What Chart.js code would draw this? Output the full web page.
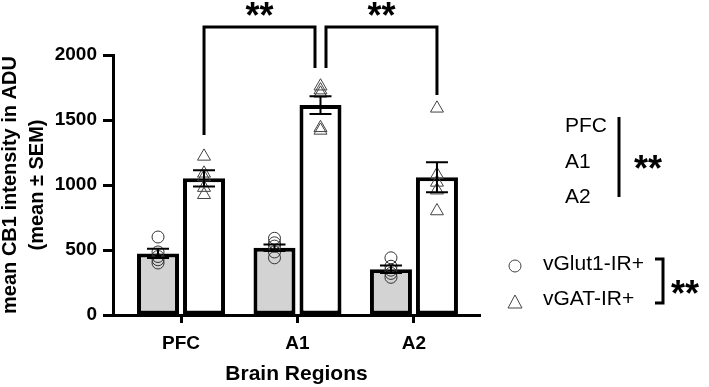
<!DOCTYPE html>
<html>
<head>
<meta charset="utf-8">
<script src="https://cdn.jsdelivr.net/npm/chart.js@4/dist/chart.umd.min.js"></script>
<style>
  body { margin: 0; background: #fff; }
</style>
</head>
<body>
<canvas id="barChart" width="709" height="387"></canvas>
<script>
const regions = ['PFC', 'A1', 'A2'];
const glutMean = [474, 518, 352];
const glutSem = [35, 25, 28];
const gatMean = [1051, 1615, 1060];
const gatSem = [62, 68, 115];
const glutPoints = [[600, 485, 450, 425, 400], [590, 555, 530, 485, 440], [440, 375, 345, 320, 290]];
const gatPoints = [[1220, 1090, 1060, 980, 925], [1760, 1730, 1705, 1440, 1420], [1590, 1080, 1020, 960, 800]];
const yTicks = [0, 500, 1000, 1500, 2000];
const seriesNames = ['vGlut1-IR+', 'vGAT-IR+'];
// significance brackets between vGAT bars (values in ADU)
const brackets = [
  { from: 0, to: 1, top: 2215, left: 1385, right: 1900 },
  { from: 1, to: 2, top: 2215, left: 1900, right: 1692 }
];

const family = "'Liberation Sans', Arial, sans-serif";
const catPct = 0.79;

function toXY(values) {
  return values.map(function (v, i) { return { x: i, y: v }; });
}

function pointsXY(groups, shift) {
  const out = [];
  groups.forEach(function (g, i) {
    g.forEach(function (v) { out.push({ x: i + shift, y: v }); });
  });
  return out;
}

function stars(ctx, x, baseline) {
  ctx.font = 'bold 36px ' + family;
  ctx.textAlign = 'center';
  ctx.fillText('**', x, baseline);
}

const extras = {
  id: 'extras',
  afterDatasetsDraw(chart) {
    const ctx = chart.ctx;
    const y = chart.scales.y;
    // error bars (mean ± SEM)
    [[glutMean, glutSem], [gatMean, gatSem]].forEach(function (s, d) {
      chart.getDatasetMeta(d).data.forEach(function (bar, i) {
        const hi = y.getPixelForValue(s[0][i] + s[1][i]);
        const lo = y.getPixelForValue(s[0][i] - s[1][i]);
        ctx.save();
        ctx.strokeStyle = '#000';
        ctx.lineWidth = 2;
        ctx.beginPath();
        ctx.moveTo(bar.x, hi); ctx.lineTo(bar.x, lo);
        ctx.moveTo(bar.x - 11, hi); ctx.lineTo(bar.x + 11, hi);
        ctx.moveTo(bar.x - 11, lo); ctx.lineTo(bar.x + 11, lo);
        ctx.stroke();
        ctx.restore();
      });
    });
  },
  afterDraw(chart) {
    const ctx = chart.ctx;
    const y = chart.scales.y;
    const gatBars = chart.getDatasetMeta(1).data;
    const gap = 5.5;
    ctx.save();
    ctx.strokeStyle = '#000';
    ctx.fillStyle = '#000';
    ctx.lineWidth = 3;
    ctx.textBaseline = 'alphabetic';

    // brackets over the vGAT bars
    brackets.forEach(function (b) {
      const x1 = gatBars[b.from].x + (brackets.some(o => o.to === b.from) ? gap : 0);
      const x2 = gatBars[b.to].x - (brackets.some(o => o.from === b.to) ? gap : 0);
      const top = y.getPixelForValue(b.top);
      ctx.beginPath();
      ctx.moveTo(x1, y.getPixelForValue(b.left));
      ctx.lineTo(x1, top);
      ctx.lineTo(x2, top);
      ctx.lineTo(x2, y.getPixelForValue(b.right));
      ctx.stroke();
      stars(ctx, (x1 + x2) / 2, top + 1);
    });

    // region factor
    ctx.font = '21px ' + family;
    ctx.textAlign = 'left';
    regions.forEach(function (r, i) {
      ctx.fillText(r, 565, 132 + i * 35.5);
    });
    ctx.beginPath();
    ctx.moveTo(619, 117); ctx.lineTo(619, 197);
    ctx.stroke();
    stars(ctx, 648, 181);

    // series legend
    ctx.lineWidth = 1;
    ctx.strokeStyle = '#444';
    ctx.beginPath();
    ctx.arc(515, 266, 6, 0, Math.PI * 2);
    ctx.stroke();
    ctx.beginPath();
    ctx.moveTo(515, 295); ctx.lineTo(522, 308); ctx.lineTo(508, 308); ctx.closePath();
    ctx.stroke();
    ctx.font = '21px ' + family;
    ctx.textAlign = 'left';
    ctx.fillText(seriesNames[0], 543, 270);
    ctx.fillText(seriesNames[1], 543, 305);
    ctx.lineWidth = 3;
    ctx.strokeStyle = '#000';
    ctx.beginPath();
    ctx.moveTo(655, 259); ctx.lineTo(663, 259); ctx.lineTo(663, 303); ctx.lineTo(655, 303);
    ctx.stroke();
    stars(ctx, 685, 306);
    ctx.restore();
  }
};

new Chart(document.getElementById('barChart'), {
  type: 'bar',
  data: {
    datasets: [{
      label: seriesNames[0],
      data: toXY(glutMean),
      backgroundColor: '#d3d3d3',
      borderColor: '#000',
      borderWidth: 4,
      borderSkipped: false,
      categoryPercentage: catPct,
      barPercentage: 0.913,
      order: 2
    }, {
      label: seriesNames[1],
      data: toXY(gatMean),
      backgroundColor: '#fff',
      borderColor: '#000',
      borderWidth: 4,
      borderSkipped: false,
      categoryPercentage: catPct,
      barPercentage: 0.913,
      order: 2
    }, {
      type: 'scatter',
      data: pointsXY(glutPoints, -catPct / 4),
      pointStyle: 'circle',
      pointRadius: 6,
      borderColor: '#333',
      borderWidth: 1,
      backgroundColor: 'rgba(0,0,0,0)',
      order: 1
    }, {
      type: 'scatter',
      data: pointsXY(gatPoints, catPct / 4),
      pointStyle: 'triangle',
      pointRadius: 7.5,
      borderColor: '#444',
      borderWidth: 1,
      backgroundColor: 'rgba(0,0,0,0)',
      order: 1
    }]
  },
  options: {
    responsive: false,
    animation: false,
    layout: { padding: { left: 0, right: 229, top: 55, bottom: 0 } },
    scales: {
      x: {
        type: 'linear',
        offset: false,
        min: -0.584,
        max: 2.567,
        afterFit: function (scale) { scale.height = 72; },
        afterBuildTicks: function (scale) {
          scale.ticks = regions.map(function (r, i) { return { value: i }; });
        },
        ticks: {
          padding: 9,
          color: '#000',
          font: { family: family, size: 19, weight: 'bold' },
          callback: function (v) { return regions[v]; }
        },
        grid: { offset: false, drawOnChartArea: false, tickLength: 8, tickWidth: 3, tickColor: '#000' },
        border: { display: true, width: 3, color: '#000' },
        title: {
          display: true,
          text: 'Brain Regions',
          color: '#000',
          font: { family: family, size: 21, weight: 'bold' },
          padding: { top: 0, bottom: 0 }
        }
      },
      y: {
        min: 0,
        max: 2000,
        afterFit: function (scale) { scale.width = 113; },
        afterBuildTicks: function (scale) {
          scale.ticks = yTicks.map(function (v) { return { value: v }; });
        },
        ticks: {
          padding: 6,
          color: '#000',
          font: { family: family, size: 19, weight: 'bold' },
          callback: function (v) { return String(v); }
        },
        grid: { drawOnChartArea: false, tickLength: 10, tickWidth: 3, tickColor: '#000' },
        border: { display: true, width: 3, color: '#000' },
        title: {
          display: true,
          text: ['mean CB1 intensity in ADU', '(mean \u00b1 SEM)'],
          color: '#000',
          font: { family: family, size: 20, weight: 'bold', lineHeight: 1.35 },
          padding: { top: -3, bottom: 0 }
        }
      }
    },
    plugins: {
      legend: { display: false },
      tooltip: { enabled: false }
    }
  },
  plugins: [extras]
});
</script>
</body>
</html>
